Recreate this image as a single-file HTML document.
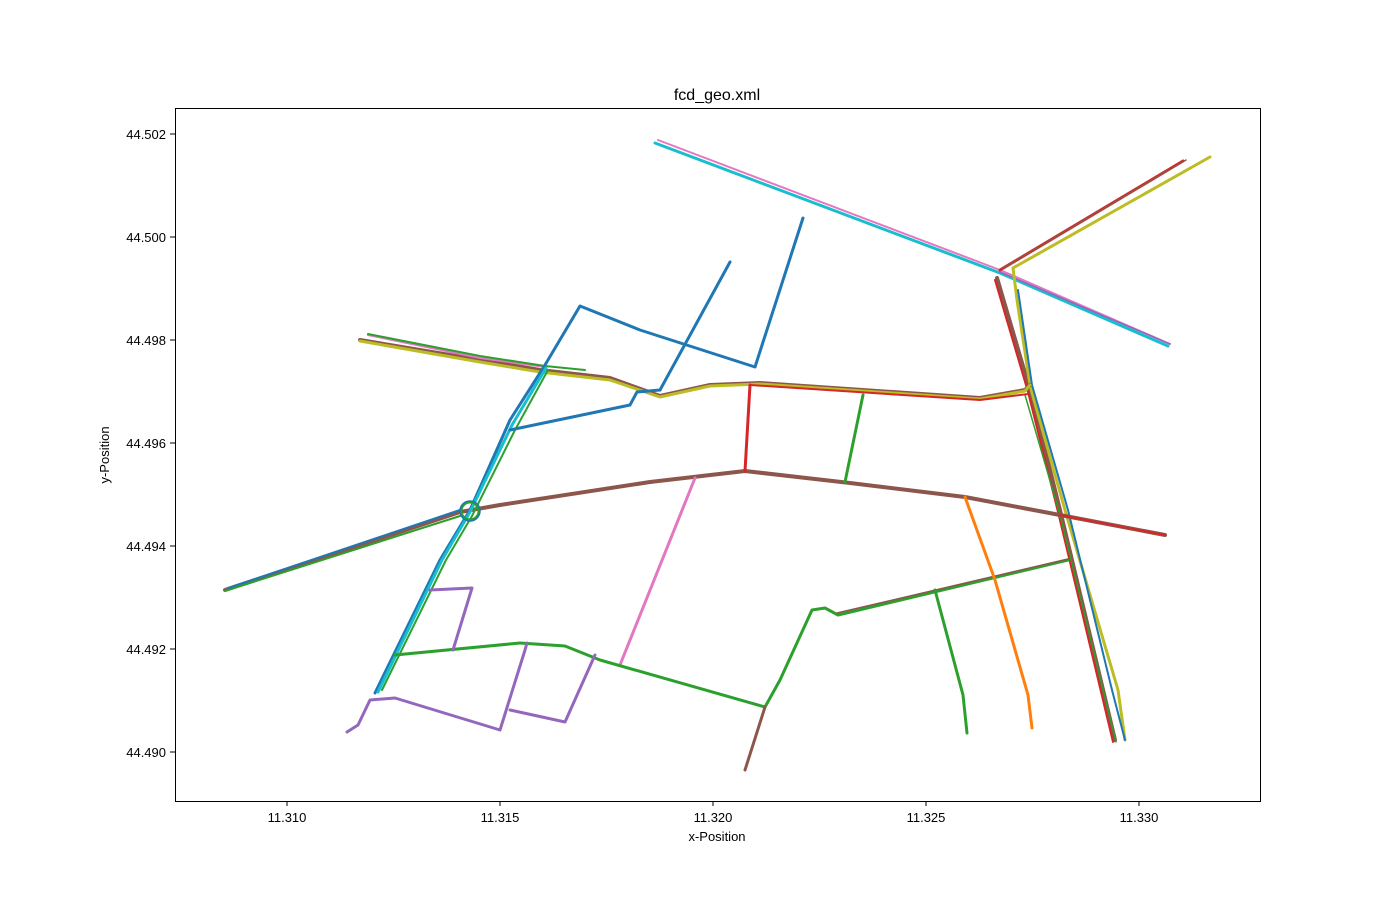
<!DOCTYPE html>
<html><head><style>body{margin:0;background:#fff}svg{display:block}</style></head><body>
<svg width="1400" height="900" xmlns="http://www.w3.org/2000/svg" font-family="Liberation Sans, DejaVu Sans, sans-serif">
<rect width="1400" height="900" fill="#fff"/>
<text x="717" y="100" font-size="16" text-anchor="middle">fcd_geo.xml</text>
<g fill="none" stroke-linecap="round" stroke-linejoin="round" stroke-width="3">
<polyline stroke="#17becf" points="655,143 1000,273 1168,346"/>
<polyline stroke="#e377c2" points="658,140 1000,270 1170,344" stroke-width="2"/>
<polyline stroke="#9467bd" points="1000,272 1170,344" stroke-width="1.5"/>
<polyline stroke="#d62728" points="1000,270 1183,161"/>
<polyline stroke="#bcbd22" points="1013,268 1210,157"/>
<polyline stroke="#8c564b" points="1003,268 1186,160" stroke-width="1.5"/>
<polyline stroke="#8c564b" points="997,278 1030,390 1060,510 1115,740" stroke-width="4"/>
<polyline stroke="#d62728" points="995,280 1028,392 1058,512 1113,742" stroke-width="2"/>
<polyline stroke="#bcbd22" points="1013,268 1017,300 1030,385 1034,400 1065,510 1118,690 1125,740"/>
<polyline stroke="#1f77b4" points="1018,290 1032,385 1068,510 1112,690 1125,740" stroke-width="2"/>
<polyline stroke="#2ca02c" points="1025,395 1060,515 1116,742" stroke-width="1.5"/>
<polyline stroke="#8c564b" points="360,340 480,360 540,370 610,378 660,396 710,385 760,383 980,398 1025,390 1030,385" stroke-width="4"/>
<polyline stroke="#bcbd22" points="360,341 480,362 540,372 610,380 660,397 710,386 760,384 980,399 1025,391 1030,385"/>
<polyline stroke="#d62728" points="750,385 980,400 1028,394" stroke-width="2"/>
<polyline stroke="#e377c2" points="368,335 480,358 545,367" stroke-width="2"/>
<polyline stroke="#2ca02c" points="368,334 480,356 545,366 585,370" stroke-width="2"/>
<polyline stroke="#8c564b" points="225,590 460,512 500,505 650,482 745,471 850,483 965,497 1060,515 1165,535" stroke-width="4"/>
<polyline stroke="#2ca02c" points="225,591 460,516" stroke-width="2"/>
<polyline stroke="#d62728" points="1060,515 1165,535" stroke-width="2"/>
<polyline stroke="#1f77b4" points="228,588 460,510" stroke-width="2"/>
<polyline stroke="#1f77b4" points="375,693 440,560 470,510 510,420 545,365 580,306 640,330 755,367 803,218"/>
<polyline stroke="#17becf" points="378,692 442,560 470,512 512,425 546,368"/>
<polyline stroke="#2ca02c" points="382,690 446,560 472,516 515,430 548,370" stroke-width="2"/>
<polyline stroke="#1f77b4" points="660,390 730,262"/>
<polyline stroke="#1f77b4" points="510,430 630,405 637,392 660,390"/>
<polyline stroke="#d62728" points="745,471 750,385"/>
<polyline stroke="#2ca02c" points="845,482 863,395"/>
<polyline stroke="#e377c2" points="620,665 695,478"/>
<polyline stroke="#2ca02c" points="395,655 520,643 565,646 600,660 765,707 780,680 812,610 825,608 838,615 1068,560"/>
<polyline stroke="#8c564b" points="837,613 1068,559" stroke-width="1.5"/>
<polyline stroke="#8c564b" points="745,770 765,707"/>
<polyline stroke="#ff7f0e" points="965,497 995,580 1028,695 1032,728"/>
<polyline stroke="#2ca02c" points="935,590 963,695 967,733"/>
<polyline stroke="#9467bd" points="347,732 358,725 370,700 395,698 500,730 525,650 527,643"/>
<polyline stroke="#9467bd" points="510,710 565,722 595,655"/>
<polyline stroke="#9467bd" points="453,650 472,588 430,590"/>
<circle cx="470" cy="511" r="9" stroke="#2ca02c" stroke-width="3"/>
<circle cx="470" cy="511" r="10" stroke="#1f77b4" stroke-width="1.5"/>
</g>
<rect x="175.5" y="108.5" width="1085" height="693" fill="none" stroke="#000" stroke-width="1"/>
<g stroke="#000">
<line x1="287" y1="801" x2="287" y2="806"/><line x1="500" y1="801" x2="500" y2="806"/><line x1="713" y1="801" x2="713" y2="806"/><line x1="926" y1="801" x2="926" y2="806"/><line x1="1139" y1="801" x2="1139" y2="806"/>
<line x1="170" y1="134" x2="175" y2="134"/><line x1="170" y1="237" x2="175" y2="237"/><line x1="170" y1="340" x2="175" y2="340"/><line x1="170" y1="443" x2="175" y2="443"/><line x1="170" y1="546" x2="175" y2="546"/><line x1="170" y1="649" x2="175" y2="649"/><line x1="170" y1="752" x2="175" y2="752"/>
</g>
<g font-size="13" text-anchor="middle">
<text x="287" y="822">11.310</text><text x="500" y="822">11.315</text><text x="713" y="822">11.320</text><text x="926" y="822">11.325</text><text x="1139" y="822">11.330</text>
<text x="717" y="841">x-Position</text>
</g>
<g font-size="13" text-anchor="end">
<text x="166" y="139">44.502</text><text x="166" y="242">44.500</text><text x="166" y="345">44.498</text><text x="166" y="448">44.496</text><text x="166" y="551">44.494</text><text x="166" y="654">44.492</text><text x="166" y="757">44.490</text>
</g>
<text transform="translate(109,455) rotate(-90)" font-size="13" text-anchor="middle">y-Position</text>
</svg>
</body></html>
